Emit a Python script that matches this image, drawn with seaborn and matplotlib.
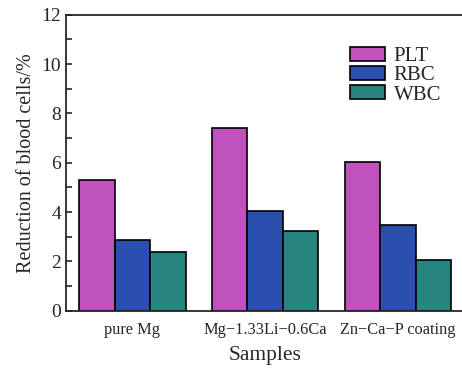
import matplotlib
matplotlib.use("Agg")
import matplotlib.pyplot as plt
import seaborn as sns
import pandas as pd
from matplotlib.ticker import MultipleLocator

samples = ["pure Mg", "Mg\u22121.33Li\u22120.6Ca", "Zn\u2212Ca\u2212P coating"]
cells = ["PLT", "RBC", "WBC"]
plt_vals = [5.32, 7.42, 6.04]
rbc_vals = [2.88, 4.05, 3.49]
wbc_vals = [2.39, 3.24, 2.07]
colors = ["#C052BE", "#2A4FAE", "#28857E"]

df = pd.DataFrame({
    "Samples": samples * 3,
    "cell": ["PLT"] * 3 + ["RBC"] * 3 + ["WBC"] * 3,
    "value": plt_vals + rbc_vals + wbc_vals,
})

sns.set_style("ticks")
plt.rcParams["font.family"] = ["Liberation Serif", "DejaVu Serif"]

fig = plt.figure(figsize=(4.62, 3.70), dpi=100)
ax = fig.add_axes([0.143, 0.16, 0.862, 0.80])

sns.barplot(data=df, x="Samples", y="value", hue="cell", hue_order=cells,
            palette=colors, width=0.8, edgecolor="black", linewidth=1.2,
            saturation=1, ax=ax)

ax.set_xlim(-0.5, 2.5)
ax.set_ylim(0, 12)
ax.yaxis.set_major_locator(MultipleLocator(2))
ax.yaxis.set_minor_locator(MultipleLocator(1))
ax.tick_params(axis="y", which="both", direction="in", labelsize=14, length=4, width=1.2)
ax.tick_params(axis="x", length=0, labelsize=11.8, pad=8)
ax.set_xlabel("Samples", fontsize=15.5, labelpad=6)
ax.set_ylabel("Reduction of blood cells/%", fontsize=14.5, labelpad=4)
for s in ["left", "bottom", "top"]:
    ax.spines[s].set_linewidth(1.3)
    ax.spines[s].set_visible(True)
ax.spines["right"].set_visible(False)

ax.legend(title=None, frameon=False, fontsize=15, loc="upper left",
          bbox_to_anchor=(0.692, 0.92), handlelength=1.7, handleheight=0.65,
          labelspacing=0.0, handletextpad=0.4, borderaxespad=0)

fig.savefig("out.png", dpi=100)
